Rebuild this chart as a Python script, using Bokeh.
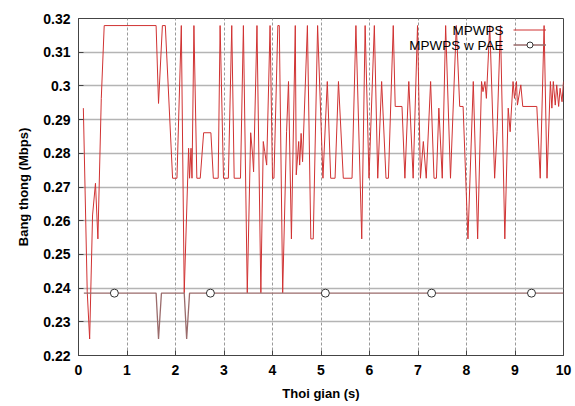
from bokeh.plotting import figure
from bokeh.models import (Label, Legend, LegendItem, FixedTicker,
                          NumeralTickFormatter, Range1d)
from bokeh.embed import file_html
from bokeh.resources import INLINE

# ---------------- data ----------------
series_names = ["MPWPS", "MPWPS w PAE"]
x_label = "Thoi gian (s)"
y_label = "Bang thong (Mbps)"
x_ticks = [0, 1, 2, 3, 4, 5, 6, 7, 8, 9, 10]
y_ticks = [0.22, 0.23, 0.24, 0.25, 0.26, 0.27, 0.28, 0.29, 0.30, 0.31, 0.32]

mpwps_t = [0.10, 0.18, 0.23, 0.29, 0.35, 0.40, 0.47, 0.53, 1.60, 1.65,
           1.73, 1.79, 1.94, 2.03, 2.12, 2.18, 2.27, 2.29, 2.32, 2.34,
           2.38, 2.44, 2.51, 2.58, 2.73, 2.78, 2.88, 2.92, 2.99, 3.09,
           3.16, 3.21, 3.34, 3.40, 3.48, 3.55, 3.59, 3.61, 3.68, 3.76,
           3.81, 3.84, 3.88, 3.95, 4.00, 4.03, 4.11, 4.14, 4.21, 4.29,
           4.33, 4.39, 4.47, 4.49, 4.54, 4.56, 4.59, 4.62, 4.72, 4.79,
           4.84, 4.93, 5.04, 5.13, 5.20, 5.29, 5.36, 5.46, 5.64, 5.72,
           5.84, 5.91, 5.99, 6.10, 6.17, 6.25, 6.34, 6.39, 6.49, 6.53,
           6.67, 6.73, 6.81, 6.90, 6.99, 7.05, 7.11, 7.17, 7.26, 7.33,
           7.38, 7.43, 7.50, 7.57, 7.67, 7.79, 7.86, 7.93, 8.03, 8.14,
           8.23, 8.31, 8.34, 8.38, 8.41, 8.48, 8.58, 8.63, 8.70, 8.79,
           8.86, 8.90, 8.96, 8.99, 9.03, 9.05, 9.12, 9.16, 9.45, 9.52,
           9.60, 9.66, 9.73, 9.76, 9.79, 9.83, 9.86, 9.90, 9.93, 9.97,
           10.00]
mpwps_bw = [0.2934, 0.2389, 0.2249, 0.2617, 0.2711, 0.2546, 0.2963, 0.3179, 0.3179, 0.2948,
            0.3179, 0.3179, 0.2726, 0.2726, 0.3179, 0.2386, 0.2815, 0.2726, 0.2815, 0.2726,
            0.3179, 0.2726, 0.2726, 0.2861, 0.2861, 0.2726, 0.2726, 0.3179, 0.2726, 0.2726,
            0.3179, 0.2726, 0.2726, 0.3179, 0.2386, 0.2861, 0.2795, 0.2745, 0.3179, 0.2386,
            0.2835, 0.2805, 0.2765, 0.3179, 0.2726, 0.2726, 0.3179, 0.3179, 0.2386, 0.2864,
            0.3013, 0.2546, 0.3179, 0.2736, 0.2835, 0.2765, 0.2859, 0.2775, 0.3179, 0.2546,
            0.2546, 0.3179, 0.2726, 0.3013, 0.2726, 0.2726, 0.3013, 0.2726, 0.2726, 0.3179,
            0.2546, 0.3179, 0.2726, 0.3179, 0.2726, 0.3013, 0.2726, 0.2726, 0.3179, 0.2939,
            0.2939, 0.2726, 0.3013, 0.2726, 0.3179, 0.2726, 0.2835, 0.2726, 0.3013, 0.2726,
            0.2726, 0.2934, 0.2726, 0.3179, 0.2726, 0.3179, 0.2939, 0.2939, 0.2546, 0.3013,
            0.2546, 0.3013, 0.2983, 0.3013, 0.2963, 0.3179, 0.2726, 0.2864, 0.3179, 0.2546,
            0.2934, 0.2864, 0.3013, 0.2963, 0.3013, 0.2943, 0.3003, 0.2939, 0.2939, 0.2726,
            0.3179, 0.2726, 0.3013, 0.2934, 0.3013, 0.2943, 0.3003, 0.2939, 0.2993, 0.2953,
            0.3013]

pae_t = [0.11, 1.60, 1.65, 1.71, 2.18, 2.23, 2.29, 10.00]
pae_bw = [0.2385, 0.2385, 0.2249, 0.2385, 0.2385, 0.2249, 0.2385, 0.2385]
pae_marker_t = [0.74, 2.72, 5.09, 7.28, 9.34]
pae_marker_bw = [0.2385, 0.2385, 0.2385, 0.2385, 0.2385]

# ---------------- figure ----------------
FONT = "Liberation Sans"
RED = "#d03232"
BROWN = "#9a6b6b"

p = figure(width=575, height=406, output_backend="svg", toolbar_location=None,
           x_range=Range1d(0, 10), y_range=Range1d(0.22, 0.32),
           min_border_left=78, min_border_right=12, min_border_top=18,
           min_border_bottom=51)
p.background_fill_color = "white"
p.border_fill_color = "white"
p.outline_line_color = "#444444"
p.outline_line_width = 1

r1 = p.line(mpwps_t, mpwps_bw, line_color=RED, line_width=1)
r2 = p.line(pae_t, pae_bw, line_color=BROWN, line_width=1.3)
r3 = p.scatter(pae_marker_t, pae_marker_bw, marker="circle", size=8,
               fill_color="white", line_color="#333333", line_width=1)

p.xaxis.ticker = FixedTicker(ticks=x_ticks)
p.yaxis.ticker = FixedTicker(ticks=y_ticks)
p.yaxis.formatter = NumeralTickFormatter(format="0.[00]")
p.xaxis.formatter = NumeralTickFormatter(format="0")

for ax in (p.xaxis, p.yaxis):
    ax.major_label_text_font = FONT
    ax.major_label_text_font_style = "bold"
    ax.major_label_text_font_size = "14px"
    ax.major_label_text_color = "black"
    ax.axis_label_text_font = FONT
    ax.axis_label_text_font_style = "bold"
    ax.axis_label_text_font_size = "13px"
    ax.axis_label_text_color = "black"
    ax.major_tick_in = 5
    ax.major_tick_out = 0
    ax.minor_tick_line_color = None
    ax.axis_line_color = "#444444"
    ax.major_tick_line_color = "#444444"

p.xaxis.axis_label = x_label
p.yaxis.axis_label = y_label
p.xaxis.major_label_standoff = 9
p.xaxis.axis_label_standoff = 8
p.yaxis.major_label_standoff = 8
p.yaxis.axis_label_standoff = 9

p.xgrid.grid_line_color = "#9a9a9a"
p.xgrid.grid_line_dash = "3 2"
p.xgrid.grid_line_width = 1
p.ygrid.grid_line_color = "#b4b4b4"
p.ygrid.grid_line_width = 1.5

# legend: gnuplot style (text on the left, sample on the right)
legend = Legend(items=[LegendItem(label=" ", renderers=[r1]),
                       LegendItem(label=" ", renderers=[r2, r3])],
                location=(435, 303), orientation="vertical",
                glyph_width=33, glyph_height=15, label_height=15,
                label_width=0, label_standoff=0, padding=0, margin=0,
                spacing=0, background_fill_alpha=0, border_line_alpha=0,
                label_text_font_size="4px")
p.add_layout(legend)

for name, ys in zip(series_names, (325.0, 310.0)):
    p.add_layout(Label(x=425, y=ys, x_units="screen", y_units="screen",
                       text=name, text_align="right", text_baseline="middle",
                       text_font=FONT, text_font_size="13.5px",
                       text_color="black"))

open("out.html", "w").write(file_html(p, INLINE))
